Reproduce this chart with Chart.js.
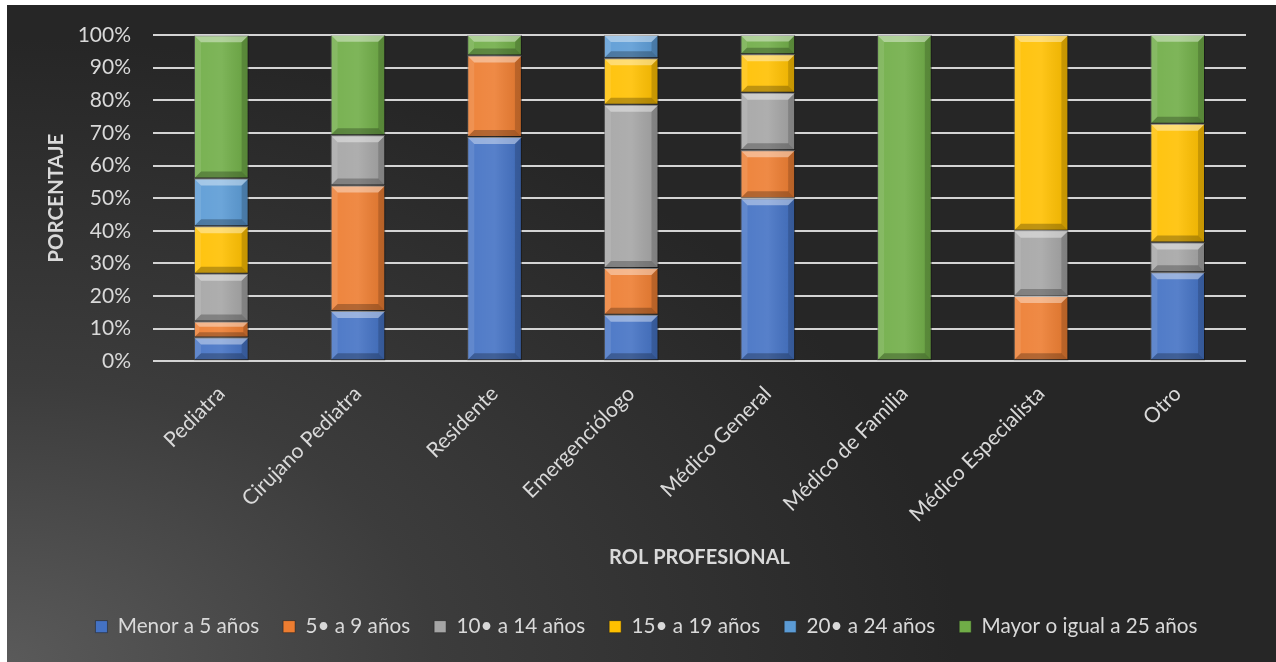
<!DOCTYPE html>
<html lang="es">
<head>
<meta charset="utf-8">
<title>Rol profesional por años de experiencia</title>
<script src="https://cdn.jsdelivr.net/npm/chart.js@4.4.1/dist/chart.umd.min.js"></script>
<style>
  html, body { margin: 0; padding: 0; background: #ffffff; }
  #wrap {
    position: absolute; left: 7px; top: 5px; width: 1269px; height: 657px;
    background: radial-gradient(ellipse 75% 95% at 0% 100%, #5a5a5a 0%, #3c3c3c 45%, #262626 100%);
  }
  canvas { display: block; }
</style>
</head>
<body>
<div id="wrap"><canvas id="chart" width="1269" height="657"></canvas></div>
<script>
// Categorías (rol profesional)
const roles = ['Pediatra', 'Cirujano Pediatra', 'Residente', 'Emergenciólogo',
               'Médico General', 'Médico de Familia', 'Médico Especialista', 'Otro'];

// Porcentaje por rango de años de experiencia
const menor5   = [7.3, 15.4, 68.75, 14.3, 50.0, 0, 0, 27.3];
const de5a9    = [4.9, 38.5, 25.0, 14.3, 14.7, 0, 20, 0];
const de10a14  = [14.6, 15.4, 0, 50.0, 17.6, 0, 20, 9.1];
const de15a19  = [14.6, 0, 0, 14.3, 11.8, 0, 60, 36.4];
const de20a24  = [14.6, 0, 0, 7.1, 0, 0, 0, 0];
const mayor25  = [43.9, 30.8, 6.25, 0, 5.9, 100, 0, 27.3];

const seriesNames = ['Menor a 5 años', '5• a 9 años', '10• a 14 años',
                     '15• a 19 años', '20• a 24 años', 'Mayor o igual a 25 años'];
const seriesData = [menor5, de5a9, de10a14, de15a19, de20a24, mayor25];
const seriesColors = ['#4472C4', '#ED7D31', '#A5A5A5', '#FFC000', '#5B9BD5', '#70AD47'];

const yTicks = [0, 10, 20, 30, 40, 50, 60, 70, 80, 90, 100];

const FONT = 'Lato, "Open Sans", sans-serif';
const TXT = '#d9d9d9';

// Bevelled look on each bar segment
const bevelPlugin = {
  id: 'bevel',
  afterDatasetsDraw(chart) {
    const ctx = chart.ctx;
    ctx.save();
    chart.getSortedVisibleDatasetMetas().forEach(meta => {
      meta.data.forEach(el => {
        const p = el.getProps(['x', 'y', 'base', 'width'], true);
        const l = p.x - p.width / 2, r = p.x + p.width / 2;
        const t = Math.min(p.y, p.base), b = Math.max(p.y, p.base);
        const h = b - t;
        if (h < 1) return;
        const s = Math.min(7, h / 3);
        const quad = (pts, fill) => {
          ctx.beginPath();
          ctx.moveTo(pts[0][0], pts[0][1]);
          for (let i = 1; i < pts.length; i++) ctx.lineTo(pts[i][0], pts[i][1]);
          ctx.closePath();
          ctx.fillStyle = fill;
          ctx.fill();
        };
        // soft sheen across the face
        const g = ctx.createLinearGradient(l, 0, r, 0);
        g.addColorStop(0, 'rgba(255,255,255,0.06)');
        g.addColorStop(0.5, 'rgba(255,255,255,0.10)');
        g.addColorStop(1, 'rgba(0,0,0,0.08)');
        ctx.fillStyle = g;
        ctx.fillRect(l, t, r - l, h);
        quad([[l, t], [r, t], [r - s, t + s], [l + s, t + s]], 'rgba(255,255,255,0.40)');
        quad([[l, b], [r, b], [r - s, b - s], [l + s, b - s]], 'rgba(0,0,0,0.25)');
        quad([[l, t], [l + s, t + s], [l + s, b - s], [l, b]], 'rgba(255,255,255,0.10)');
        quad([[r, t], [r - s, t + s], [r - s, b - s], [r, b]], 'rgba(0,0,0,0.16)');
      });
    });
    ctx.restore();
  }
};

// Nudge the legend row so it sits centred under the plot the way the report lays it out
const legendShift = {
  id: 'legendShift',
  afterLayout(chart) {
    const lg = chart.legend;
    if (lg) { lg.left += 20; lg.right += 20; }
  }
};

new Chart(document.getElementById('chart'), {
  type: 'bar',
  data: {
    labels: roles,
    datasets: seriesData.map((d, i) => ({
      label: seriesNames[i],
      data: d,
      backgroundColor: seriesColors[i],
      borderColor: 'rgba(30,30,30,0.5)',
      borderWidth: 1,
      borderSkipped: false,
      barPercentage: 0.4,
      categoryPercentage: 1.0
    }))
  },
  options: {
    responsive: false,
    animation: false,
    layout: { padding: { top: 30, right: 30, bottom: 15, left: 0 } },
    plugins: {
      tooltip: { enabled: false },
      legend: {
        position: 'bottom',
        labels: {
          color: TXT,
          font: { family: FONT, size: 20.7 },
          boxWidth: 12,
          boxHeight: 12,
          padding: 24
        }
      }
    },
    scales: {
      x: {
        stacked: true,
        grid: { display: false, drawTicks: false },
        border: { display: false },
        ticks: {
          color: TXT,
          font: { family: FONT, size: 21 },
          maxRotation: 45,
          minRotation: 45,
          padding: 20
        },
        title: {
          display: true,
          text: 'ROL PROFESIONAL',
          color: TXT,
          font: { family: FONT, size: 20, weight: 'bold' },
          padding: { top: 0, bottom: 23 }
        },
        afterFit(scale) { scale.height = 231; }
      },
      y: {
        stacked: true,
        min: 0,
        max: 100,
        afterBuildTicks(scale) { scale.ticks = yTicks.map(v => ({ value: v })); },
        grid: { color: '#d4d4d4', lineWidth: 2, drawTicks: true, tickLength: 22, tickColor: 'rgba(0,0,0,0)' },
        border: { display: false },
        ticks: {
          color: TXT,
          font: { family: FONT, size: 21 },
          padding: 0,
          callback: v => v + '%'
        },
        title: {
          display: true,
          text: 'PORCENTAJE',
          color: TXT,
          font: { family: FONT, size: 20.5, weight: 'bold' },
          padding: { top: 37, bottom: 0 }
        },
        afterFit(scale) { scale.width = 146; }
      }
    }
  },
  plugins: [bevelPlugin, legendShift]
});
</script>
</body>
</html>
